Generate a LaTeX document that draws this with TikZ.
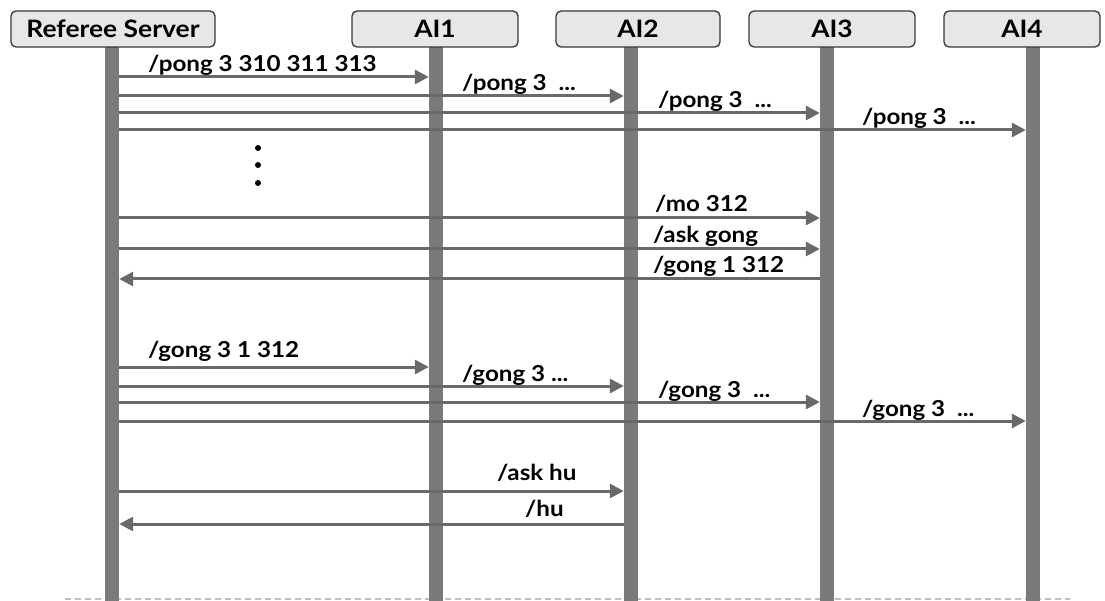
\documentclass[tikz,border=0pt]{standalone}
\usepackage{fontspec}
\setmainfont{Lato}[FakeStretch=1.1]
\usetikzlibrary{arrows.meta,positioning,calc}
\definecolor{lifegray}{RGB}{122,122,122}
\definecolor{msggray}{RGB}{105,105,105}
\definecolor{headfill}{RGB}{231,231,231}
\definecolor{headdraw}{RGB}{55,55,55}

\begin{document}
\begin{tikzpicture}[
  x=1pt,y=-1pt,
  head/.style={rectangle,rounded corners=5pt,draw=headdraw,line width=1.3pt,fill=headfill,minimum height=36pt,inner sep=0pt,font=\fontsize{24}{27}\selectfont\bfseries},
  life/.style={rectangle,fill=lifegray,minimum width=14pt,minimum height=554pt,inner sep=0pt,anchor=north},
  msg/.style={-{Triangle[length=14pt,width=14pt]},line width=3pt,draw=msggray},
  lbl/.style={anchor=base west,inner sep=0pt,font=\fontsize{22}{25}\selectfont\bfseries},
  sep/.style={dashed,dash pattern=on 6pt off 4pt,line width=1.5pt,draw=black!25}
]
  \useasboundingbox (0,0) rectangle (1105,601);
  \draw[sep] (65,599) -- (1070,599);

  % lifelines
  \node[life] (l0) at (112,47) {};
  \node[life] (l1) at (436,47) {};
  \node[life] (l2) at (631,47) {};
  \node[life] (l3) at (827,47) {};
  \node[life] (l4) at (1033,47) {};

  % heads
  \node[head,minimum width=204pt] (ref) at (113,29) {Referee Server};
  \node[head,minimum width=166pt] (ai1) at (435,29) {AI1};
  \node[head,minimum width=164pt] (ai2) at (638,29) {AI2};
  \node[head,minimum width=166pt] (ai3) at (832,29) {AI3};
  \node[head,minimum width=156pt] (ai4) at (1022,29) {AI4};

  % pong
  \draw[msg] (l0.east |- 0,77) -- (l1.west |- 0,77);
  \draw[msg] (l0.east |- 0,96) -- (l2.west |- 0,96);
  \draw[msg] (l0.east |- 0,113) -- (l3.west |- 0,113);
  \draw[msg] (l0.east |- 0,130) -- (l4.west |- 0,130);
  \node[lbl] (p1) at (148,72) {/pong 3 310 311 313};
  \node[lbl] (p2) at (462,91) {/pong 3\ \ ...};
  \node[lbl] (p3) at (658,108) {/pong 3\ \ ...};
  \node[lbl] (p4) at (862,125) {/pong 3\ \ ...};

  \foreach \y in {148,165,183}
    \fill (258,\y) circle (3pt);

  % mo
  \draw[msg] (l0.east |- 0,218) -- (l3.west |- 0,218);
  \draw[msg] (l0.east |- 0,249) -- (l3.west |- 0,249);
  \draw[msg] (l3.west |- 0,279) -- (l0.east |- 0,279);
  \node[lbl] (m1) at (655,212) {/mo 312};
  \node[lbl] (m2) at (653,243) {/ask gong};
  \node[lbl] (m3) at (653,273) {/gong 1 312};

  % gong
  \draw[msg] (l0.east |- 0,367) -- (l1.west |- 0,367);
  \draw[msg] (l0.east |- 0,386) -- (l2.west |- 0,386);
  \draw[msg] (l0.east |- 0,402) -- (l3.west |- 0,402);
  \draw[msg] (l0.east |- 0,421) -- (l4.west |- 0,421);
  \node[lbl] (g1) at (148,357) {/gong 3 1 312};
  \node[lbl] (g2) at (462,381) {/gong 3 ...};
  \node[lbl] (g3) at (658,397) {/gong 3\ \ ...};
  \node[lbl] (g4) at (862,416) {/gong 3\ \ ...};

  % hu
  \draw[msg] (l0.east |- 0,491) -- (l2.west |- 0,491);
  \draw[msg] (l2.west |- 0,524) -- (l0.east |- 0,524);
  \node[lbl] (h1) at (497,480) {/ask hu};
  \node[lbl] (h2) at (525,516) {/hu};
\end{tikzpicture}
\end{document}
